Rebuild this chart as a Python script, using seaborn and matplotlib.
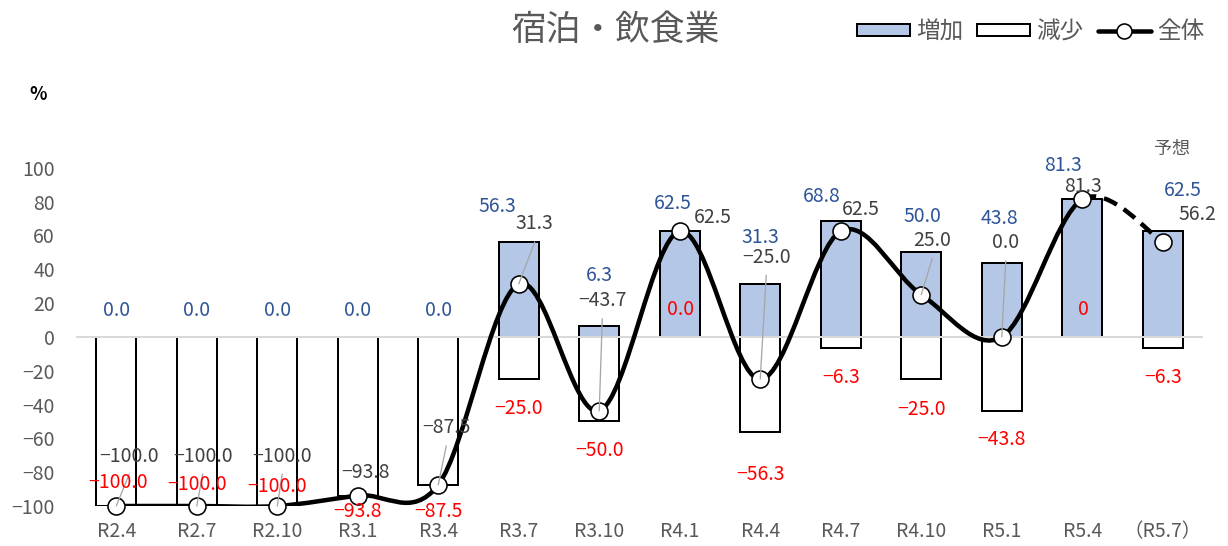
import numpy as np
import matplotlib
matplotlib.use("Agg")
import matplotlib.pyplot as plt
from matplotlib.path import Path
from matplotlib.patches import PathPatch, Patch
from matplotlib.lines import Line2D
import seaborn as sns

# ---- data -------------------------------------------------------------
periods = ["R2.4", "R2.7", "R2.10", "R3.1", "R3.4", "R3.7", "R3.10",
           "R4.1", "R4.4", "R4.7", "R4.10", "R5.1", "R5.4", "（R5.7）"]
increase = [0.0, 0.0, 0.0, 0.0, 0.0, 56.3, 6.3, 62.5, 31.3, 68.8, 50.0, 43.8, 81.3, 62.5]
decrease = [-100.0, -100.0, -100.0, -93.8, -87.5, -25.0, -50.0, 0.0, -56.3, -6.3,
            -25.0, -43.8, 0, -6.3]
overall = [-100.0, -100.0, -100.0, -93.8, -87.5, 31.3, -43.7, 62.5, -25.0, 62.5,
           25.0, 0.0, 81.3, 56.2]
yticks = [-100, -80, -60, -40, -20, 0, 20, 40, 60, 80, 100]

# label placement (pixel offsets: dx to the right, up = upward)
inc_off = [(0, 26), (0, 26), (0, 26), (0, 26), (0, 26), (-21, 35), (0, 51),
           (-7, 28), (0, 46), (-19, 24), (1, 36), (-2, 44), (-19, 34), (20, 41)]
dec_off = [(2, 24), (0, 21), (0, 19), (0, -16), (0, -27), (0, -29), (0, -29),
           (1, 27), (0, -42), (0, -30), (0, -30), (0, -29), (1, 27), (0, -30)]
tot_off = [(13, 50), (6, 50), (5, 50), (8, 23), (8, 57), (16, 60), (3, 110),
           (33, 14), (6, 122), (20, 22), (11, 54), (4, 94), (1, 13), (35, 27)]
leader = [True, True, True, False, True, True, True,
          False, True, False, True, True, False, False]

BLUE_FILL = "#B4C7E7"
BLUE_TXT = "#2F5597"
RED = "#FF0000"
GRAY_TXT = "#404040"
AXIS_TXT = "#595959"

sns.set_theme(style="white")
plt.rcParams["font.family"] = ["Noto Sans CJK JP", "DejaVu Sans"]
plt.rcParams["axes.unicode_minus"] = True

DPI = 100
PX = 72.0 / DPI  # points per pixel
W, H = 1228, 546
fig = plt.figure(figsize=(W / DPI, H / DPI), dpi=DPI)
ax = fig.add_axes([76 / W, 40 / H, (1203 - 76) / W, 372 / H])

x = np.arange(len(periods))

# bars
sns.barplot(x=x, y=increase, ax=ax, color=BLUE_FILL, saturation=1, width=0.5,
            edgecolor="black", linewidth=2 * PX, native_scale=False, zorder=2)
sns.barplot(x=x, y=decrease, ax=ax, color="white", saturation=1, width=0.5,
            edgecolor="black", linewidth=2 * PX, native_scale=False, zorder=2)

ax.axhline(0, color="#D9D9D9", lw=2 * PX, zorder=3)

# smoothed overall line (cubic Bezier segments, Catmull-Rom style control points)
pts = np.column_stack([x, overall]).astype(float)
n = len(pts)


def seg_ctrl(i):
    p_prev = pts[max(i - 1, 0)]
    p0, p1 = pts[i], pts[i + 1]
    p_next = pts[min(i + 2, n - 1)]
    c1 = p0 + (p1 - p_prev) / 6.0
    c2 = p1 - (p_next - p0) / 6.0
    return c1, c2, p1


def bezier_path(i0, i1):
    verts = [pts[i0]]
    codes = [Path.MOVETO]
    for i in range(i0, i1):
        c1, c2, p1 = seg_ctrl(i)
        verts += [c1, c2, p1]
        codes += [Path.CURVE4] * 3
    return Path(verts, codes)


ax.add_patch(PathPatch(bezier_path(0, n - 2), fill=False, edgecolor="black",
                       lw=4.5 * PX, capstyle="round", joinstyle="round", zorder=4))
ax.add_patch(PathPatch(bezier_path(n - 2, n - 1), fill=False, edgecolor="black",
                       lw=4.5 * PX, linestyle=(0, (3.2, 1.8)), zorder=4))

sns.scatterplot(x=x, y=overall, ax=ax, s=(17 * PX) ** 2, color="white",
                edgecolor="black", linewidth=1.6 * PX, zorder=5, clip_on=False)


def fmt(v):
    s = f"{v:.1f}" if isinstance(v, float) else str(v)
    return s.replace("-", "−")


lab_fs = 14
for i in range(n):
    dx, up = inc_off[i]
    ax.annotate(fmt(increase[i]), (x[i], increase[i]), xytext=(dx * PX, up * PX),
                textcoords="offset points", ha="center", va="center",
                color=BLUE_TXT, fontsize=lab_fs, zorder=7)
    dx, up = dec_off[i]
    ax.annotate(fmt(decrease[i]), (x[i], decrease[i]), xytext=(dx * PX, up * PX),
                textcoords="offset points", ha="center", va="center",
                color=RED, fontsize=lab_fs, zorder=7, annotation_clip=False)
    dx, up = tot_off[i]
    if leader[i]:
        ax.annotate("", (x[i], overall[i]), xytext=(dx * PX, (up - 18) * PX),
                    textcoords="offset points",
                    arrowprops=dict(arrowstyle="-", color="#A6A6A6", lw=1.3 * PX,
                                    shrinkA=0, shrinkB=0), zorder=6,
                    annotation_clip=False)
    ax.annotate(fmt(overall[i]), (x[i], overall[i]), xytext=(dx * PX, up * PX),
                textcoords="offset points", ha="center", va="center",
                color=GRAY_TXT, fontsize=lab_fs, zorder=7, annotation_clip=False)

ax.text(13.12, 111, "予想", ha="center", va="center", color=AXIS_TXT, fontsize=13)

# axes
ax.set_xlim(-0.5, n - 0.5)
ax.set_ylim(-100, 120)
ax.set_yticks(yticks)
ax.set_yticklabels([str(t).replace("-", "−") for t in yticks])
ax.set_xticks(x)
ax.set_xticklabels(periods)
ax.tick_params(axis="y", length=0, pad=21 * PX, labelsize=14, labelcolor=AXIS_TXT)
ax.tick_params(axis="x", length=0, pad=15 * PX, labelsize=14, labelcolor=AXIS_TXT)
for s in ax.spines.values():
    s.set_visible(False)
ax.set_xlabel("")
ax.set_ylabel("")

fig.text(38 / W, 1 - 95 / H, "%", ha="center", va="center", fontsize=13,
         fontweight="bold", color="black")
fig.text(615 / W, 1 - 30 / H, "宿泊・飲食業", ha="center", va="center",
         fontsize=25, color=AXIS_TXT)

handles = [
    Patch(facecolor=BLUE_FILL, edgecolor="black", lw=2 * PX),
    Patch(facecolor="white", edgecolor="black", lw=2 * PX),
    Line2D([], [], color="black", lw=4.5 * PX, marker="o", markersize=15 * PX,
           markerfacecolor="white", markeredgecolor="black", markeredgewidth=1.6 * PX),
]
fig.legend(handles, ["増加", "減少", "全体"], loc="center right",
           bbox_to_anchor=(1204 / W, 1 - 32 / H), ncol=3, frameon=False,
           fontsize=17, labelcolor=AXIS_TXT, handlelength=2.25, handleheight=0.45,
           handletextpad=0.25, columnspacing=0.6, borderpad=0, borderaxespad=0)

fig.savefig("out.png", dpi=DPI)
